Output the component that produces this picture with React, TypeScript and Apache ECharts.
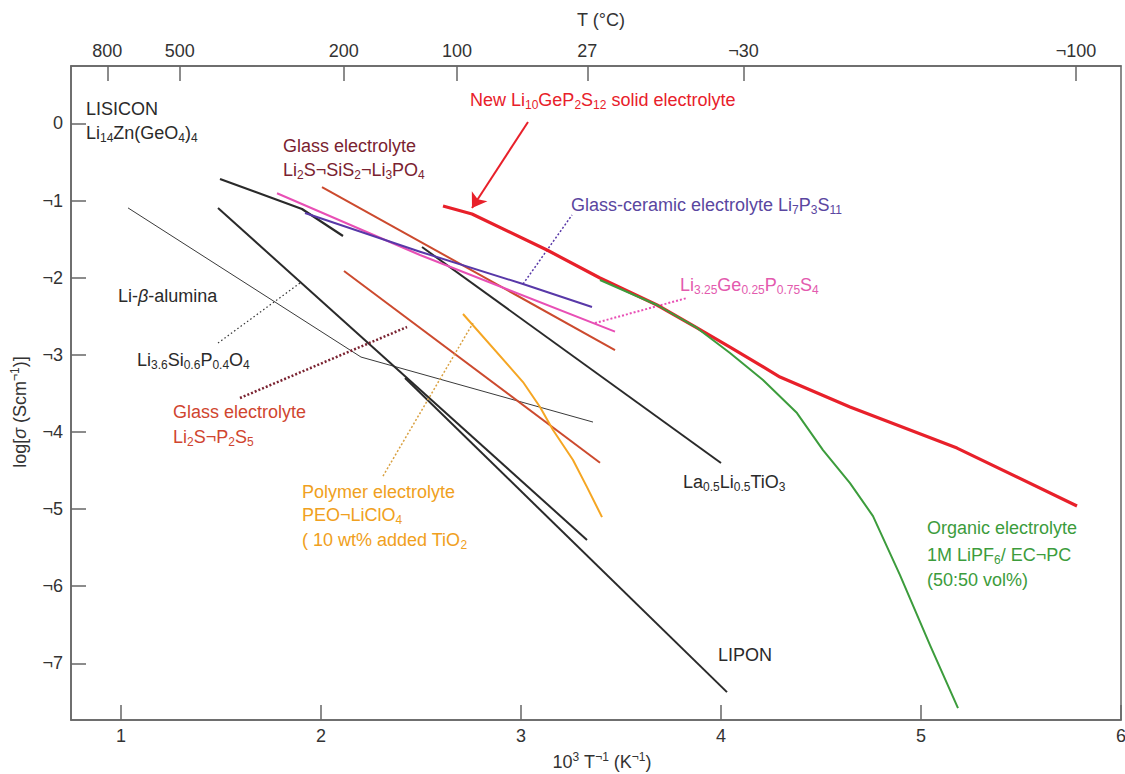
import React, { useEffect, useRef } from 'react';
import * as echarts from 'echarts';

// ---------- axis ticks ----------
const xTicks = [1, 2, 3, 4, 5, 6];
const yTicks = [0, -1, -2, -3, -4, -5, -6, -7];
const tempTicksC = [800, 500, 200, 100, 27, -30, -100];
const tempTickLabels = ['800', '500', '200', '100', '27', '¬30', '¬100'];

// ---------- series data: [1000/T (K^-1), log sigma] ----------
const lisicon = [[1.495, -0.72], [1.905, -1.109], [2.11, -1.459]];
const liBetaAlumina = [[1.035, -1.095], [2.2, -3.029], [3.36, -3.872]];
const li36Si06P04O4 = [[1.485, -1.096], [3.33, -5.4]];
const lipon = [[2.42, -3.3], [4.03, -7.374]];
const llto = [[2.505, -1.602], [4.0, -4.403]];
const glassSiS2 = [[2.005, -0.824], [3.47, -2.938]];
const glassP2S5 = [[2.115, -1.913], [3.395, -4.4]];
const li325Ge = [[1.78, -0.905], [2.495, -1.706], [3.47, -2.7]];
const glassCeramic = [[1.92, -1.161], [2.495, -1.663], [3.01, -2.082], [3.355, -2.38]];
const polymer = [[2.71, -2.471], [3.01, -3.353], [3.095, -3.677], [3.16, -3.975], [3.26, -4.364], [3.33, -4.715], [3.405, -5.104]];
const lgps = [[2.61, -1.07], [2.755, -1.174], [3.13, -1.641], [3.395, -2.004], [3.68, -2.354], [3.88, -2.652], [4.045, -2.899], [4.295, -3.288], [4.645, -3.677], [5.18, -4.209], [5.78, -4.961]];
const organic = [[3.395, -2.03], [3.68, -2.354], [3.88, -2.652], [4.045, -2.977], [4.21, -3.327], [4.38, -3.755], [4.51, -4.235], [4.645, -4.663], [4.76, -5.091], [4.895, -5.856], [5.045, -6.764], [5.185, -7.581]];

// ---------- leader lines / arrow (data coordinates) ----------
const leaderLi36 = [[1.485, -2.847], [1.895, -2.069]];
const leaderP2S5 = [[1.595, -3.56], [2.43, -2.639]];
const leaderPolymer = [[2.31, -4.572], [2.76, -2.588]];
const leaderCeramic = [[3.01, -2.082], [3.255, -1.187]];
const leaderLi325 = [[3.37, -2.588], [3.83, -2.263]];
const arrowLgps = [[3.035, 0.019], [2.755, -1.096]];

const FF = '"Liberation Sans", Arial, Helvetica, sans-serif';
const FS = 18;

const C = {
  black: '#2a2a2a',
  axis: '#666666',
  tick: '#333333',
  red: '#e8202a',
  green: '#3c9c3c',
  brown: '#cc4a2e',
  maroon: '#7a2230',
  pink: '#e84fb5',
  pinkText: '#e35aae',
  purple: '#5838a8',
  purpleText: '#5a46a0',
  orange: '#f5a623',
  orangeText: '#f0a020',
  brownText: '#d0452f',
};

const richStyles: any = {
  n: { font: `${FS}px ${FF}`, fontSize: FS, fontFamily: FF, lineHeight: 22, verticalAlign: 'middle' },
  s: { font: `12px ${FF}`, fontSize: 12, fontFamily: FF, lineHeight: 12, verticalAlign: 'bottom' },
  p: { font: `12px ${FF}`, fontSize: 12, fontFamily: FF, lineHeight: 12, verticalAlign: 'top' },
  i: { font: `italic ${FS}px ${FF}`, fontSize: FS, fontFamily: FF, fontStyle: 'italic', lineHeight: 22, verticalAlign: 'middle' },
};

function toRich(src: string): string {
  let out = '';
  let buf = '';
  const flush = () => {
    if (buf) {
      out += `{n|${buf}}`;
      buf = '';
    }
  };
  for (let i = 0; i < src.length; i++) {
    const c = src[i];
    if ((c === '_' || c === '^' || c === '~') && src[i + 1] === '{') {
      const end = src.indexOf('}', i + 2);
      flush();
      const key = c === '_' ? 's' : c === '^' ? 'p' : 'i';
      out += `{${key}|${src.slice(i + 2, end)}}`;
      i = end;
    } else {
      buf += c;
    }
  }
  flush();
  return out;
}

// annotation texts: [text, x(px), y(px, centre), colour]
const annotations: [string, number, number, string][] = [
  ['LISICON', 86, 109, C.black],
  ['Li_{14}Zn(GeO_{4})_{4}', 86, 133, C.black],
  ['Glass electrolyte', 283, 146, C.maroon],
  ['Li_{2}S¬SiS_{2}¬Li_{3}PO_{4}', 283, 170, C.maroon],
  ['New Li_{10}GeP_{2}S_{12} solid electrolyte', 470, 100, C.red],
  ['Glass-ceramic electrolyte Li_{7}P_{3}S_{11}', 571, 205, C.purpleText],
  ['Li_{3.25}Ge_{0.25}P_{0.75}S_{4}', 680, 285, C.pinkText],
  ['Li-~{β}-alumina', 118, 296, C.black],
  ['Li_{3.6}Si_{0.6}P_{0.4}O_{4}', 137, 360, C.black],
  ['Glass electrolyte', 173, 412, C.brownText],
  ['Li_{2}S¬P_{2}S_{5}', 173, 437, C.brownText],
  ['Polymer electrolyte', 302, 492, C.orangeText],
  ['PEO¬LiClO_{4}', 302, 515, C.orangeText],
  ['( 10 wt% added TiO_{2}', 302, 540, C.orangeText],
  ['La_{0.5}Li_{0.5}TiO_{3}', 683, 482, C.black],
  ['LIPON', 718, 655, C.black],
  ['Organic electrolyte', 927, 528, C.green],
  ['1M LiPF_{6}/ EC¬PC', 927, 555, C.green],
  ['(50:50 vol%)', 927, 580, C.green],
];

function lineSeries(name: string, data: number[][], color: string, width: number, extra: any = {}) {
  return {
    name,
    type: 'line',
    data,
    showSymbol: false,
    symbol: 'none',
    silent: true,
    lineStyle: { color, width, join: 'round', cap: 'butt', ...(extra.lineStyle || {}) },
    smooth: false,
    z: extra.z ?? 2,
  };
}

export default function App() {
  const ref = useRef<HTMLDivElement>(null);

  useEffect(() => {
    const chart = echarts.init(ref.current!, null, { renderer: 'svg' });
    const tempPos = tempTicksC.map((t) => 1000 / (t + 273.15));

    const textGraphics: any[] = annotations.map(([t, x, y, color]) => ({
      type: 'text',
      x,
      y,
      silent: true,
      z: 100,
      style: {
        text: toRich(t),
        rich: richStyles,
        fill: color,
        font: `${FS}px ${FF}`,
        align: 'left',
        verticalAlign: 'middle',
      },
    }));

    textGraphics.push(
      {
        type: 'text',
        x: 601,
        y: 20,
        silent: true,
        style: { text: toRich('T (°C)'), rich: richStyles, fill: C.tick, font: `${FS}px ${FF}`, align: 'center', verticalAlign: 'middle' },
      },
      {
        type: 'text',
        x: 602,
        y: 762,
        silent: true,
        style: { text: toRich('10^{3} T^{¬1} (K^{¬1})'), rich: richStyles, fill: C.tick, font: `${FS}px ${FF}`, align: 'center', verticalAlign: 'middle' },
      },
      {
        type: 'text',
        x: 20,
        y: 412,
        rotation: Math.PI / 2,
        silent: true,
        style: { text: toRich('log[~{σ} (Scm^{¬1})]'), rich: richStyles, fill: C.tick, font: `${FS}px ${FF}`, align: 'center', verticalAlign: 'middle' },
      }
    );

    const axisCommon = {
      type: 'value',
      axisLine: { show: true, onZero: false, lineStyle: { color: C.axis, width: 1.5 } },
      axisTick: { show: true, inside: true, length: 15, lineStyle: { color: C.axis, width: 1.5 } },
      splitLine: { show: false },
    };
    const labelCommon = { color: C.tick, fontSize: FS, fontFamily: FF };

    const option: any = {
      animation: false,
      backgroundColor: '#ffffff',
      grid: {
        left: 71,
        right: 4,
        top: 66,
        bottom: 54,
        show: true,
        borderColor: C.axis,
        borderWidth: 1.5,
        containLabel: false,
        outerBoundsMode: 'none',
      },
      xAxis: [
        {
          ...axisCommon,
          position: 'bottom',
          min: 0.75,
          max: 6,
          axisTick: { ...axisCommon.axisTick, customValues: xTicks },
          axisLabel: { ...labelCommon, margin: 7, customValues: xTicks, formatter: (v: number) => String(v) },
        },
        {
          ...axisCommon,
          position: 'top',
          min: 0.75,
          max: 6,
          axisTick: { ...axisCommon.axisTick, customValues: tempPos },
          axisLabel: {
            ...labelCommon,
            margin: 6,
            customValues: tempPos,
            formatter: (v: number) => {
              let best = 0;
              for (let i = 0; i < tempPos.length; i++) {
                if (Math.abs(tempPos[i] - v) < Math.abs(tempPos[best] - v)) best = i;
              }
              return tempTickLabels[best];
            },
          },
        },
      ],
      yAxis: {
        ...axisCommon,
        min: -7.735,
        max: 0.745,
        axisTick: { ...axisCommon.axisTick, customValues: yTicks },
        axisLabel: {
          ...labelCommon,
          margin: 8,
          customValues: yTicks,
          formatter: (v: number) => (v === 0 ? '0' : '¬' + Math.abs(v)),
        },
      },
      series: [
        lineSeries('Li-β-alumina', liBetaAlumina, '#3a3a3a', 1),
        lineSeries('LISICON', lisicon, C.black, 2.2),
        lineSeries('Li3.6Si0.6P0.4O4', li36Si06P04O4, C.black, 2),
        lineSeries('LIPON', lipon, C.black, 2),
        lineSeries('La0.5Li0.5TiO3', llto, C.black, 2),
        lineSeries('Glass Li2S-SiS2-Li3PO4', glassSiS2, C.brown, 2),
        lineSeries('Glass Li2S-P2S5', glassP2S5, C.brown, 2),
        lineSeries('Li3.25Ge0.25P0.75S4', li325Ge, C.pink, 2),
        lineSeries('Glass-ceramic Li7P3S11', glassCeramic, C.purple, 2),
        lineSeries('Polymer', polymer, C.orange, 2),
        lineSeries('Li10GeP2S12', lgps, C.red, 3.2, { z: 3 }),
        lineSeries('Organic', organic, C.green, 2, { z: 4 }),
        lineSeries('leader Li3.6', leaderLi36, '#333333', 1.2, { lineStyle: { type: [1.5, 2.5] } }),
        lineSeries('leader P2S5', leaderP2S5, C.maroon, 2.5, { lineStyle: { type: [2, 2] } }),
        lineSeries('leader polymer', leaderPolymer, '#d9a040', 1.5, { lineStyle: { type: [2, 2] } }),
        lineSeries('leader ceramic', leaderCeramic, C.purple, 1.5, { lineStyle: { type: [2, 2] } }),
        lineSeries('leader Li3.25', leaderLi325, C.pink, 2, { lineStyle: { type: [2, 2] } }),
        {
          name: 'arrow',
          type: 'lines',
          coordinateSystem: 'cartesian2d',
          silent: true,
          symbol: ['none', 'arrow'],
          symbolSize: 14,
          z: 5,
          lineStyle: { color: C.red, width: 2, opacity: 1 },
          data: [{ coords: arrowLgps }],
        },
      ],
      graphic: textGraphics,
    };

    chart.setOption(option);
    return () => chart.dispose();
  }, []);

  return <div ref={ref} style={{ position: 'absolute', left: 0, top: 0, width: 1125, height: 774 }} />;
}
